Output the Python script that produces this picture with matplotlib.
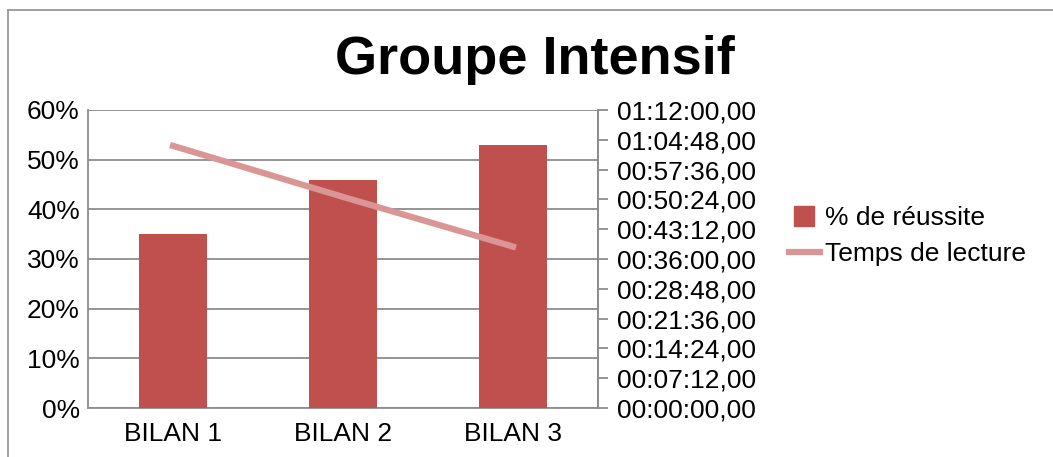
import matplotlib
matplotlib.use('Agg')
import matplotlib.pyplot as plt
from matplotlib.lines import Line2D
from matplotlib.ticker import FuncFormatter, MultipleLocator

plt.rcParams['font.family'] = ['Liberation Sans', 'DejaVu Sans']

categories = ['BILAN 1', 'BILAN 2', 'BILAN 3']
reussite = [0.35, 0.46, 0.53]           # % de réussite
temps_sec = [3800, 3060, 2340]           # temps de lecture, secondes

BAR_COLOR = '#C0504D'
LINE_COLOR = '#D99694'
GRID_COLOR = '#8C8C8C'


def hms(v, pos=None):
    v = int(round(v))
    h, r = divmod(v, 3600)
    m, s = divmod(r, 60)
    return f'{h:02d}:{m:02d}:{s:02d},00'


fig = plt.figure(figsize=(10.53, 4.57), dpi=100)
ax = fig.add_axes([88 / 1053, 1 - 408 / 457, 510 / 1053, 298 / 457])

x = range(len(categories))
ax.bar(x, reussite, width=0.4, color=BAR_COLOR, zorder=3)
ax.set_xlim(-0.5, 2.5)
ax.set_ylim(0, 0.6)
ax.yaxis.set_major_locator(MultipleLocator(0.1))
ax.yaxis.set_major_formatter(FuncFormatter(lambda v, p: f'{v * 100:.0f}%'))
ax.set_xticks(list(x))
ax.set_xticklabels(categories)
ax.grid(axis='y', color=GRID_COLOR, linewidth=1.3, zorder=0)
ax.tick_params(axis='x', length=0, labelsize=19, pad=10)
ax.tick_params(axis='y', length=0, labelsize=19, pad=6)
for side in ax.spines:
    ax.spines[side].set_color(GRID_COLOR)
    ax.spines[side].set_linewidth(1.3)
ax.spines['top'].set_visible(False)

ax2 = ax.twinx()
ax2.plot(list(x), temps_sec, color=LINE_COLOR, linewidth=4.5, zorder=4)
ax2.set_ylim(0, 4320)
ax2.yaxis.set_major_locator(MultipleLocator(432))
ax2.yaxis.set_major_formatter(FuncFormatter(hms))
ax2.tick_params(axis='y', length=7, width=1.3, color=GRID_COLOR,
                labelsize=19, pad=7)
for side in ax2.spines:
    ax2.spines[side].set_visible(False)
ax2.spines['right'].set_visible(True)
ax2.spines['right'].set_color(GRID_COLOR)
ax2.spines['right'].set_linewidth(1.3)

fig.text(535 / 1053, 1 - 60 / 457, 'Groupe Intensif', ha='center', va='center',
         fontsize=39, fontweight='bold')

handles = [Line2D([0], [0], marker='s', markersize=14, color=BAR_COLOR,
                  linestyle='none'),
           Line2D([0], [0], color=LINE_COLOR, linewidth=4.5)]
fig.legend(handles, ['% de réussite', 'Temps de lecture'],
           loc='center left', bbox_to_anchor=(776 / 1053, 1 - 236 / 457),
           frameon=False, fontsize=19, handlelength=1.15, handletextpad=0.2,
           labelspacing=0.45, borderpad=0)

# cadre du graphique
fig.add_artist(Line2D([8 / 1053, 8 / 1053], [0, 1 - 10 / 457],
                      transform=fig.transFigure, color='#999999', linewidth=1.3))
fig.add_artist(Line2D([8 / 1053, 1], [1 - 10 / 457, 1 - 10 / 457],
                      transform=fig.transFigure, color='#999999', linewidth=1.3))

plt.savefig('out.png', dpi=100)
plt.close()
